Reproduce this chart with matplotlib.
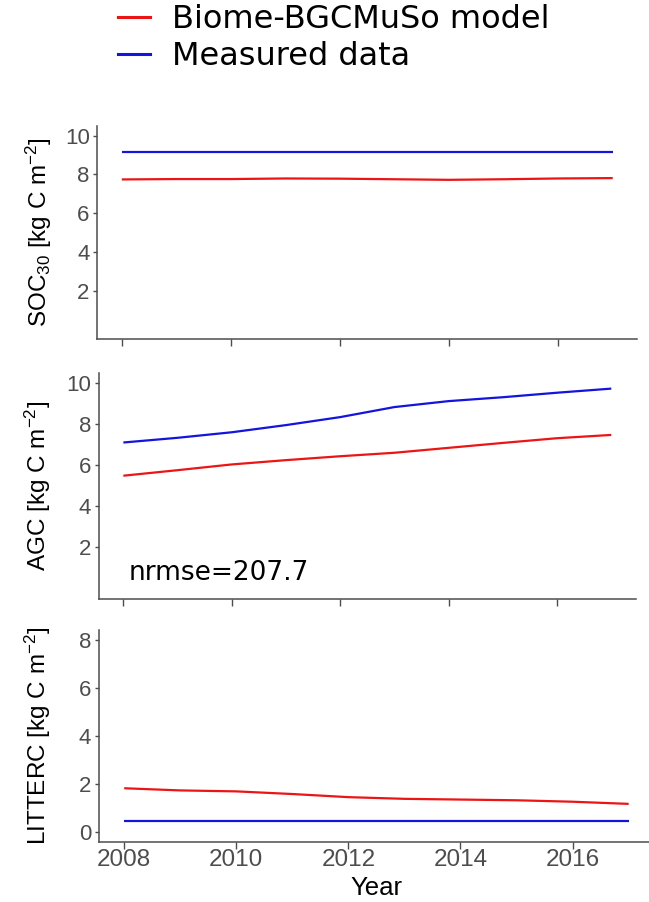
#Carbon pools: Biome-BGCMuSo model vs. measured data

import numpy as np
import matplotlib
matplotlib.use('Agg')
import matplotlib.pyplot as plt
from matplotlib.lines import Line2D

years = [2008, 2009, 2010, 2011, 2012, 2013, 2014, 2015, 2016, 2017]

soc_model = [7.74, 7.76, 7.76, 7.79, 7.78, 7.75, 7.72, 7.75, 7.79, 7.81]
soc_measured = [9.16, 9.16, 9.16, 9.16, 9.16, 9.16, 9.16, 9.16, 9.16, 9.16]

agc_model = [5.50, 5.77, 6.05, 6.26, 6.45, 6.62, 6.86, 7.10, 7.33, 7.49]
agc_measured = [7.12, 7.35, 7.62, 7.97, 8.36, 8.85, 9.14, 9.33, 9.55, 9.75]

litter_model = [1.82, 1.73, 1.69, 1.58, 1.45, 1.38, 1.35, 1.32, 1.26, 1.17]
litter_measured = [0.47, 0.47, 0.47, 0.47, 0.47, 0.47, 0.47, 0.47, 0.47, 0.47]

year_ticks = [2008, 2010, 2012, 2014, 2016]
carbon_ticks = [2, 4, 6, 8, 10]
litter_ticks = [0, 2, 4, 6, 8]

series_labels = ['Biome-BGCMuSo model', 'Measured data']
nrmse_label = 'nrmse=207.7'

MODEL_COLOR = '#ec1515'
MEASURED_COLOR = '#1414dc'
AXIS_GREY = '#4d4d4d'

plt.rcParams['font.family'] = ['Liberation Sans', 'DejaVu Sans']
plt.rcParams['mathtext.fontset'] = 'custom'
plt.rcParams['mathtext.rm'] = 'Liberation Sans'
plt.rcParams['mathtext.it'] = 'Liberation Sans:italic'
plt.rcParams['mathtext.bf'] = 'Liberation Sans:bold'


# Function to give a panel the classic look: only left/bottom axis lines
def style_panel(ax, yticks, ylim, ylabel, label_x, show_xlabels):
    for side in ['top', 'right']:
        ax.spines[side].set_visible(False)
    for side in ['left', 'bottom']:
        ax.spines[side].set_color(AXIS_GREY)
        ax.spines[side].set_linewidth(1.1)
    ax.set_xlim(2007.55, 2017.45)
    ax.set_ylim(*ylim)
    ax.set_yticks(yticks)
    ax.set_xticks(year_ticks)
    ax.tick_params(axis='y', length=3, width=1, color=AXIS_GREY,
                   labelcolor=AXIS_GREY, labelsize=16, pad=2.5)
    ax.tick_params(axis='x', length=5, width=1, color=AXIS_GREY,
                   labelcolor=AXIS_GREY, labelsize=17.5, pad=0.5)
    if not show_xlabels:
        ax.set_xticklabels([])
    ax.set_ylabel(ylabel, fontsize=17.5, color='black')
    ax.yaxis.set_label_coords(label_x, 0.5)


# Function to draw model and measured series on one panel
def plot_pair(ax, model, measured):
    ax.plot(years, model, color=MODEL_COLOR, lw=1.6, solid_capstyle='butt')
    ax.plot(years, measured, color=MEASURED_COLOR, lw=1.6, solid_capstyle='butt')


def main(output_file):
    fig = plt.figure(figsize=(6.49, 9.02), dpi=100)

    ax_soc = fig.add_axes([0.1499, 0.6242, 0.832, 0.2361])
    ax_agc = fig.add_axes([0.1525, 0.3363, 0.827, 0.2499])
    ax_lit = fig.add_axes([0.1525, 0.0669, 0.855, 0.2347])

    # SOC (top 30 cm)
    plot_pair(ax_soc, soc_model, soc_measured)
    style_panel(ax_soc, carbon_ticks, (-0.5, 10.5),
                r'SOC$_{30}$ [kg C m$^{-2}$]', -0.080, False)

    # Aboveground carbon
    plot_pair(ax_agc, agc_model, agc_measured)
    style_panel(ax_agc, carbon_ticks, (-0.5, 10.5),
                r'AGC [kg C m$^{-2}$]', -0.086, False)
    ax_agc.text(2008.1, 0.42, nrmse_label, fontsize=19, family='DejaVu Sans',
                va='baseline', ha='left', color='black')

    # Litter carbon
    plot_pair(ax_lit, litter_model, litter_measured)
    style_panel(ax_lit, litter_ticks, (-0.4, 8.4),
                r'LITTERC [kg C m$^{-2}$]', -0.083, True)

    fig.text(376 / 649, 1 - 895 / 902, 'Year', ha='center', va='baseline',
             fontsize=18.5, color='black')

    # Legend on top of the figure
    handles = [Line2D([0], [0], color=MODEL_COLOR, lw=2.2),
               Line2D([0], [0], color=MEASURED_COLOR, lw=2.2)]
    fig.legend(handles, series_labels, loc='upper left',
               bbox_to_anchor=(118 / 649, 1 - 4 / 902), frameon=False,
               prop={'family': 'DejaVu Sans', 'size': 23},
               handlelength=1.0, handletextpad=0.7, labelspacing=0.2,
               borderpad=0, borderaxespad=0)

    fig.savefig(output_file, dpi=100)


if __name__ == "__main__":
    main('out.png')
